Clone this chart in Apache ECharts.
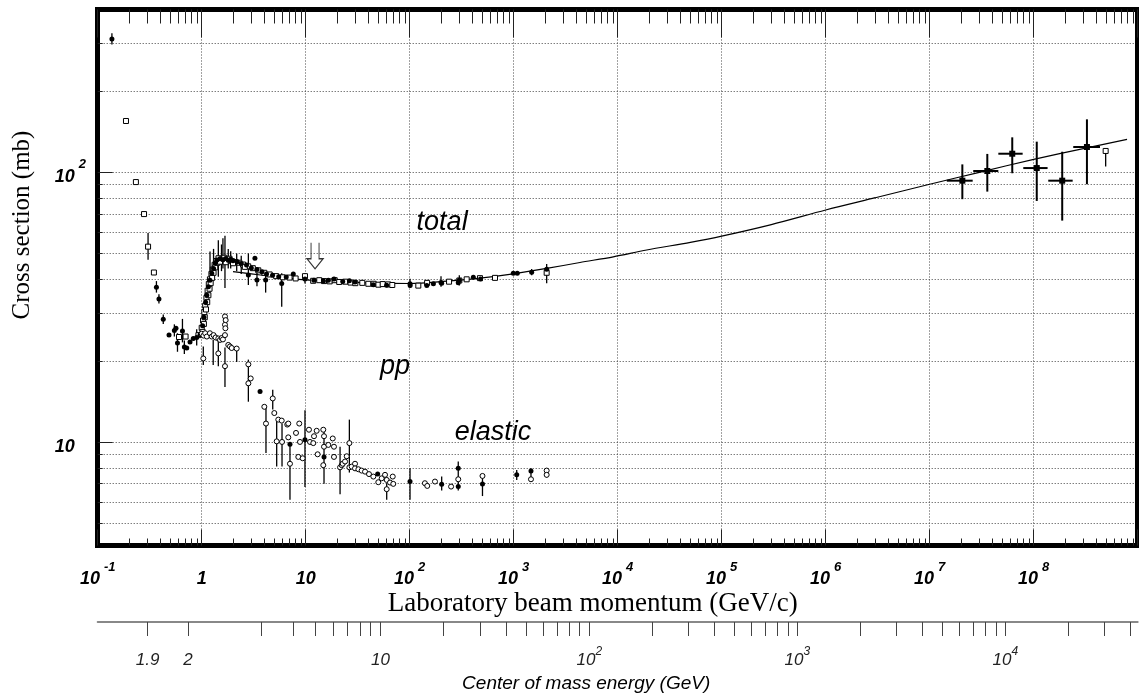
<!DOCTYPE html>
<html><head><meta charset="utf-8">
<script src="https://cdn.jsdelivr.net/npm/echarts@6/dist/echarts.min.js"></script>
<style>html,body{margin:0;padding:0;background:#fff}#c{width:1139px;height:694px}</style>
</head><body><div id="c"></div>
<script>
// ---------------- DATA (lab momentum p in GeV/c, cross section in mb) ----------------
const totalOpenSq = [
 [0.187,155],[0.233,92],[0.279,70],[0.305,53],[0.347,42.5],[0.605,24.5],[0.70,24.6],[0.93,24.9],
 [1.0,26.5],[1.03,28.2],[1.06,30.3],[1.08,32.0],[1.11,34.2],[1.14,36.4],[1.17,38.5],[1.20,40.1],[1.24,42.0],[1.28,43.6],[1.33,45.4],[1.38,46.9],[1.45,48.0],[1.55,47.4],[1.65,48.2],[1.75,47.1],[1.85,47.8],[1.95,46.8],[2.1,46.5],[2.3,46.2],[2.5,45.5],[2.8,44.8],[3.1,44.1],[3.5,43.3],[4.0,42.4],[4.5,41.8],[5.2,41.2],[6.0,40.8],[7.0,40.7],[8.0,40.4],[9.84,41.2],[11.8,39.6],[13.5,39.8],[15.0,39.5],[17.0,39.4],[19.0,39.8],[21.0,39.2],[24.0,39.3],[27.0,39.0],[30.0,38.8],[35.0,38.9],[40.0,38.6],[45.0,38.6],[50.0,38.3],[55.0,38.5],[62.0,38.4],[68.0,38.2],[121,38.0],[147,38.9],[239,39.3],[300,39.7],[353,40.1],[474,40.5],[661,40.6],[2075,42.4],
 [1.02,25.6],[1.05,27.4],[1.07,29.0],[1.10,31.0],[1.13,33.0],[1.16,35.0],[1.19,37.0],[1.22,38.8],[1.26,40.6],[1.30,42.4],[1.35,44.4],[1.42,46.2],[1.5,46.6],[1.7,46.4],[2.0,46.0],[2.6,44.6]
];
const totalFilled = [
 [0.137,312],[0.367,37.5],[0.388,33.9],[0.427,28.5],[0.485,24.9],[0.546,25.9],[0.566,26.4],[0.585,23.3],[0.653,25.8],[0.681,22.5],[0.718,22.3],[0.772,23.5],[0.83,24.2],[0.895,24.4],[0.964,25.0],
 [1.02,27.0],[1.05,29.0],[1.09,33.0],[1.12,35.0],[1.16,37.6],[1.20,39.8],[1.25,42.2],[1.30,44.0],[1.35,46.0],[1.40,47.3],[1.50,47.8],[1.60,47.4],[1.70,47.9],[1.80,47.2],[1.90,47.6],[2.00,47.0],[2.20,46.6],[2.40,45.9],[2.70,45.3],[3.00,44.2],[3.25,48.0],[3.40,43.6],[3.80,42.8],[4.20,42.0],[4.80,41.5],[5.50,41.0],[6.50,40.9],[7.60,42.0],[9.84,40.2],[12.0,39.8],[14.8,39.5],[16.5,39.8],[18.7,40.2],[22.7,39.4],[26.3,39.6],[29.8,39.2],[44.7,38.3],[60.0,38.1],[100.7,38.6],[101,38.0],[146,38.0],[169,38.6],[200,39.0],[203,38.8],[293,38.9],[300,39.8],[409,40.8],[480,40.2],[991,42.2],[1083,42.2],[1489,42.6],[2075,43.7],
 [2.81,41.6],[3.4,39.9],[4.12,39.9],[5.88,38.7]
];
const totalErr = [ // p, low, high
 [0.137,298,328],[0.305,47.4,59.6],[0.367,35.8,39.5],[0.388,32.6,35.3],[0.427,27.4,29.7],[0.546,24.6,27.3],[0.585,21.6,25.3],[0.653,23.4,28.6],[0.681,21.2,23.8],[0.895,22.8,26.2],
 [1.076,28.3,35.6],[1.202,38.7,50.8],[1.30,40.0,52.0],[1.445,41.0,56.0],[1.55,43.0,54.0],[1.60,44.0,57.0],[1.674,37.2,58.2],[1.80,44.0,52.0],[1.90,44.0,51.0],[2.17,43.0,50.0],[2.4,42.0,49.0],
 [2.81,38.2,50.0],[3.4,37.8,44.0],[4.12,35.8,42.8],[5.88,31.7,42.2],[9.84,38.7,42.2],[100.7,37.2,40.3],[200,37.6,41.2],[300,38.0,41.5],[1489,41.5,43.8],[2075,38.8,45.7]
];
const elasticOpen = [
 [1.00,25.2],[1.04,24.8],[1.08,25.3],[1.12,24.6],[1.20,25.3],[1.25,24.6],[1.30,24.9],[1.36,24.4],[1.445,24.2],[1.50,23.9],[1.556,24.3],[1.60,24.0],[1.674,29.2],[1.674,27.2],[1.674,24.9],[1.69,26.4],[1.70,28.3],
 [1.036,20.4],[1.445,21.3],[1.674,19.1],[1.801,22.9],[1.87,22.6],[1.942,22.3],[2.17,22.2],
 [2.81,19.4],[2.96,17.2],[2.81,16.5],[4.0,13.5],[4.15,11.7],[4.82,14.5],[4.99,12.8],[5.45,12.1],[5.26,10.05],[5.88,12.0],[5.92,10.0],[6.65,11.6],[6.8,11.7],[6.8,10.4],[7.06,8.3],[8.07,10.8],[8.67,11.7],[8.49,8.8],[9.35,8.7],[8.81,10.0],[10.75,11.1],[11.0,10.0],[11.83,9.9],[12.02,10.5],[12.75,11.0],[13.03,9.0],[14.76,11.1],[15.0,10.5],[15.0,9.6],[14.76,8.2],[16.5,9.75],[18.2,10.3],[18.7,9.6],[18.7,8.8],[21.4,8.05],[22.2,8.2],[22.7,8.3],[23.9,8.46],[24.8,8.85],[26.3,9.9],[26.3,8.05],[27.7,8.1],[29.8,8.3],[29.8,7.98],[32.1,7.92],[34.5,7.83],[37.2,7.76],[40.6,7.6],[44.7,7.44],[49.9,7.09],[53.8,7.33],[57.9,7.55],[60.1,7.23],[60.1,6.68],[64.7,7.07],[68.7,7.44],[69.5,6.99],
 [140,7.03],[147.5,6.87],[175,7.13],[250,6.83],[293,7.27],[501,7.48],[1466,7.27],[2075,7.83],[2075,7.55]
];
const elasticFilled = [
 [3.64,15.4],[7.06,9.8],[9.84,10.2],[15.0,8.8],[49.2,7.6],[100.7,7.13],[203,6.97],[293,6.83],[293,7.98],[501,6.99],[1069,7.55],[1466,7.8]
];
const elasticErr = [ // p, low, high
 [1.036,19.3,22.6],[1.29,19.3,23.9],[1.445,19.1,23.9],[1.674,16.0,22.4],[2.17,19.8,22.3],[2.81,14.1,20.2],[4.15,9.1,13.5],[4.82,13.2,15.6],[5.26,8.1,12.1],[5.92,8.1,11.7],[7.06,6.1,9.9],[9.84,6.8,13.1],[15.0,7.0,11.2],[21.4,6.4,9.6],[26.3,7.7,12.1],[60.1,6.1,7.03],[100.7,6.1,7.98],[203,6.6,7.44],[293,6.6,8.46],[501,6.3,7.55],[1069,7.23,7.87],[1466,7.33,7.98],[2075,7.38,7.92]
];
const cosmicRay = [ // p, sigma, sigmaLow, sigmaHigh, pLow, pHigh
 [2.06e7,93.1,79.5,107,1.46e7,2.59e7],[3.58e7,101.1,84.8,117,2.62e7,4.57e7],[6.22e7,117.2,99.2,134.8,4.57e7,7.83e7],
 [1.07e8,103.7,78.3,129.9,7.94e7,1.36e8],[1.88e8,93.1,66.2,119.2,1.38e8,2.37e8],[3.25e8,124.1,90.3,157.2,2.40e8,4.34e8]
];
const cosmicOpen = [ // p, sigma, sigmaLow, sigmaHigh
 [4.92e8,120,105,134.8]
];
const fitCurve = [
 [2.0,42.8],[3.0,42.0],[4.5,41.2],[7,40.4],[10,39.9],[20,39.3],[40,38.9],[100,38.7],[227,39.5],[474,40.5],[991,42.0],[2075,44.0],[4335,46.3],[9070,48.6],[1.9e4,51.5],[5e4,55.0],[1e5,58.0],[3e5,64.0],[1e6,72.5],[3e6,80.5],[1e7,90.3],[3e7,100.0],[1e8,111.7],[3e8,122.5],[7.9e8,132.5]
];
const annotations = [['total',205,64.9],['pp',72.3,19.1],['elastic',632,10.8]];
const arrowMark = [12.3,49.0];

// ---------------- AXIS TICKS / LABELS ----------------
const xDecadeExps = [-1,0,1,2,3,4,5,6,7,8];
const minorMult = [2,3,4,5,6,7,8,9];
const yGridValues = [5,6,7,8,9,10,20,30,40,50,60,70,80,90,100,200,300];
const yMajorValues = [10,100];
const cmsTickValues = [1.9,2,3,4,5,6,7,8,9,10,20,30,40,50,60,70,80,90,100,200,300,400,500,600,700,800,900,1000,2000,3000,4000,5000,6000,7000,8000,9000,10000,20000,30000,40000];
const cmsLabelValues = [1.9,2,10,100,1000,10000];
const cmsLabelText = ['1.9','2','10','10^2','10^3','10^4'];

// ---------------- BUILD ----------------
const L = Math.log10;
const FONT = 'Liberation Sans', SERIF = 'Liberation Serif';
const X_MIN = -1, X_MAX = 9, Y_MIN = L(4.13), Y_MAX = L(401.6);
const mp = 0.938272;
function pLab(rs){ const s = rs*rs; const E = (s - 2*mp*mp)/(2*mp); return Math.sqrt(E*E - mp*mp); }

const xMinor = [];
xDecadeExps.forEach(k => minorMult.forEach(m => xMinor.push(k + L(m))));
const yMinorLog = yGridValues.filter(v => yMajorValues.indexOf(v) < 0).map(L);
const yGridLog = yGridValues.map(L);
const yMajorLog = yMajorValues.map(L);
const cmsTickLog = cmsTickValues.map(v => L(pLab(v)));
const cmsLabelLog = cmsLabelValues.map(v => L(pLab(v)));

const richMain = {
  b:{fontFamily:FONT,fontSize:18,fontWeight:'bold',fontStyle:'italic',color:'#000',verticalAlign:'bottom',lineHeight:28},
  s:{fontFamily:FONT,fontSize:13,fontWeight:'bold',fontStyle:'italic',color:'#000',verticalAlign:'top',padding:[0,0,0,4]}
};
const richCms = {
  b:{fontFamily:FONT,fontSize:17,fontStyle:'italic',color:'#222',verticalAlign:'bottom',lineHeight:23},
  s:{fontFamily:FONT,fontSize:12,fontStyle:'italic',color:'#222',verticalAlign:'top'}
};
function fmtX(v){ const e = Math.round(v); if (e === 0) return '{b|1}'; if (e === 1) return '{b|10}'; return '{b|10}{s|' + e + '}'; }
function fmtY(v){ const e = Math.round(v); if (e === 1) return '{b|10}'; return '{b|10}{s|' + e + '}'; }
function fmtCms(v){
  for (let i = 0; i < cmsLabelLog.length; i++) {
    if (Math.abs(cmsLabelLog[i] - v) < 1e-4) {
      const m = cmsLabelText[i].split('^');
      return m.length > 1 ? '{b|' + m[0] + '}{s|' + m[1] + '}' : '{b|' + m[0] + '}';
    }
  }
  return '';
}
const toLog = arr => arr.map(d => d.map(L));

const GRID = {left:97.7, right:1.3, top:9.5, bottom:148.5, outerBoundsMode:'none', containLabel:false};
const FRAME = {show:true, onZero:false, lineStyle:{color:'#000', width:5, cap:'square'}};
const DOT = {show:true, lineStyle:{color:'#444', width:1, type:[1,2]}};
const noAx = {show:true, axisLine:{show:false, onZero:false}, axisLabel:{show:false}, splitLine:{show:false}};

function errRender(params, api){
  const x = api.value(0), a = api.coord([x, api.value(1)]), b = api.coord([x, api.value(2)]);
  return {type:'line', shape:{x1:a[0],y1:a[1],x2:b[0],y2:b[1]}, style:{stroke:'#000', lineWidth:1.3}};
}
function crRender(params, api){
  const x = api.value(0), y = api.value(1);
  const c = api.coord([x,y]), lo = api.coord([x,api.value(2)]), hi = api.coord([x,api.value(3)]);
  const pl = api.coord([api.value(4),y]), ph = api.coord([api.value(5),y]);
  return {type:'group', children:[
    {type:'line', shape:{x1:lo[0],y1:lo[1],x2:hi[0],y2:hi[1]}, style:{stroke:'#000',lineWidth:2}},
    {type:'line', shape:{x1:pl[0],y1:pl[1],x2:ph[0],y2:ph[1]}, style:{stroke:'#000',lineWidth:2}},
    {type:'rect', shape:{x:c[0]-3,y:c[1]-3,width:6,height:6}, style:{fill:'#000'}}
  ]};
}
function textRender(params, api){
  const c = api.coord([api.value(0), api.value(1)]);
  return {type:'text', x:c[0], y:c[1], style:{text:annotations[params.dataIndex][0], fill:'#000',
    font:'italic 27px "Liberation Sans"', align:'center', verticalAlign:'middle'}};
}

const option = {
  animation:false,
  backgroundColor:'#fff',
  grid:[
    Object.assign({}, GRID),
    Object.assign({}, GRID),
    Object.assign({}, GRID),
    {left:97.7, right:1.3, top:560, height:62, outerBoundsMode:'none', containLabel:false}
  ],
  xAxis:[
    {gridIndex:0, type:'value', position:'bottom', min:X_MIN, max:X_MAX,
      axisLine:FRAME,
      axisTick:{show:true, inside:true, length:7, customValues:xMinor, lineStyle:{color:'#222', width:1}},
      axisLabel:{show:true, customValues:xDecadeExps, margin:15, formatter:fmtX, rich:richMain},
      splitLine:{show:false},
      name:'Laboratory beam momentum (GeV/c)', nameLocation:'middle', nameGap:45, nameMoveOverlap:false,
      nameTextStyle:{fontFamily:SERIF, fontSize:27, color:'#000', padding:[0,50,0,0]}},
    {gridIndex:0, type:'value', position:'top', min:X_MIN, max:X_MAX,
      axisLine:FRAME,
      axisTick:{show:true, inside:true, length:14, customValues:xMinor, lineStyle:{color:'#222', width:1}},
      axisLabel:{show:false}, splitLine:{show:false}},
    Object.assign({gridIndex:1, type:'value', position:'bottom', min:X_MIN, max:X_MAX, interval:1,
      axisTick:{show:true, inside:true, length:16, lineStyle:{color:'#222', width:1}}}, noAx, {splitLine:DOT}),
    Object.assign({gridIndex:1, type:'value', position:'top', min:X_MIN, max:X_MAX, interval:1,
      axisTick:{show:true, inside:true, length:28, lineStyle:{color:'#222', width:1}}}, noAx),
    {gridIndex:2, type:'value', min:X_MIN, max:X_MAX, show:false},
    {gridIndex:3, type:'value', position:'bottom', min:X_MIN, max:X_MAX,
      axisLine:{show:true, onZero:false, lineStyle:{color:'#888', width:2}},
      axisTick:{show:true, inside:false, length:14, customValues:cmsTickLog, lineStyle:{color:'#444', width:1}},
      axisLabel:{show:true, customValues:cmsLabelLog, margin:24, formatter:fmtCms, rich:richCms},
      splitLine:{show:false},
      name:'Center of mass energy (GeV)', nameLocation:'middle', nameGap:52, nameMoveOverlap:false,
      nameTextStyle:{fontFamily:FONT, fontSize:19, fontStyle:'italic', color:'#000', padding:[0,63,0,0]}}
  ],
  yAxis:[
    {gridIndex:0, type:'value', position:'left', min:Y_MIN, max:Y_MAX,
      axisLine:FRAME,
      axisTick:{show:true, inside:true, length:5, customValues:yMinorLog, lineStyle:{color:'#222', width:1}},
      axisLabel:{show:true, customValues:yMajorLog, margin:43, align:'left', formatter:fmtY, rich:richMain},
      splitLine:{show:false},
      name:'Cross section (mb)', nameLocation:'middle', nameGap:63, nameRotate:90, nameMoveOverlap:false,
      nameTextStyle:{fontFamily:SERIF, fontSize:25, color:'#000', padding:[0,0,0,105]}},
    {gridIndex:0, type:'value', position:'right', min:Y_MIN, max:Y_MAX,
      axisLine:FRAME, axisTick:{show:false}, axisLabel:{show:false}, splitLine:{show:false}},
    Object.assign({gridIndex:1, type:'value', position:'left', min:Y_MIN, max:Y_MAX,
      axisTick:{show:true, inside:true, length:15, customValues:yMajorLog, lineStyle:{color:'#222', width:1}}}, noAx),
    Object.assign({gridIndex:2, type:'value', position:'left', min:Y_MIN, max:Y_MAX,
      axisTick:{show:false, customValues:yGridLog}}, noAx, {splitLine:DOT}),
    {gridIndex:3, type:'value', min:0, max:1, show:false}
  ],
  series:[
    {type:'line', xAxisIndex:0, yAxisIndex:0, data:toLog(fitCurve), showSymbol:false, smooth:0.3,
      lineStyle:{color:'#000', width:1.2}, z:3, silent:true},
    {type:'custom', xAxisIndex:0, yAxisIndex:0, data:toLog(totalErr), renderItem:errRender, z:4, silent:true},
    {type:'custom', xAxisIndex:0, yAxisIndex:0, data:toLog(elasticErr), renderItem:errRender, z:4, silent:true},
    {type:'scatter', xAxisIndex:0, yAxisIndex:0, data:toLog(totalOpenSq), symbol:'rect', symbolSize:5,
      itemStyle:{color:'#fff', borderColor:'#000', borderWidth:1, opacity:1}, z:5},
    {type:'scatter', xAxisIndex:0, yAxisIndex:0, data:toLog(totalFilled), symbol:'circle', symbolSize:5,
      itemStyle:{color:'#000', opacity:1}, z:5},
    {type:'scatter', xAxisIndex:0, yAxisIndex:0, data:toLog(elasticOpen), symbol:'circle', symbolSize:5,
      itemStyle:{color:'#fff', borderColor:'#000', borderWidth:1, opacity:1}, z:5},
    {type:'scatter', xAxisIndex:0, yAxisIndex:0, data:toLog(elasticFilled), symbol:'circle', symbolSize:5,
      itemStyle:{color:'#000', opacity:1}, z:5},
    {type:'custom', xAxisIndex:0, yAxisIndex:0, data:toLog(cosmicRay), renderItem:crRender, z:5, silent:true},
    {type:'custom', xAxisIndex:0, yAxisIndex:0, data:toLog(cosmicOpen), renderItem:errRender, z:4, silent:true},
    {type:'scatter', xAxisIndex:0, yAxisIndex:0, data:cosmicOpen.map(d => [L(d[0]), L(d[1])]), symbol:'rect', symbolSize:5,
      itemStyle:{color:'#fff', borderColor:'#000', borderWidth:1, opacity:1}, z:5},
    {type:'scatter', xAxisIndex:0, yAxisIndex:0, data:[[L(arrowMark[0]), L(arrowMark[1])]],
      symbol:'path://M4,0 L4,16 L0,16 L8,26 L16,16 L12,16 L12,0', symbolSize:[16,26],
      itemStyle:{color:'rgba(0,0,0,0)', borderColor:'#333', borderWidth:1.2, opacity:1}, z:5, silent:true},
    {type:'custom', xAxisIndex:0, yAxisIndex:0, silent:true, z:6,
      data:annotations.map(a => [L(a[1]), L(a[2])]), renderItem:textRender}
  ]
};
const chart = echarts.init(document.getElementById('c'), null, {renderer:'canvas'});
chart.setOption(option);
</script></body></html>
